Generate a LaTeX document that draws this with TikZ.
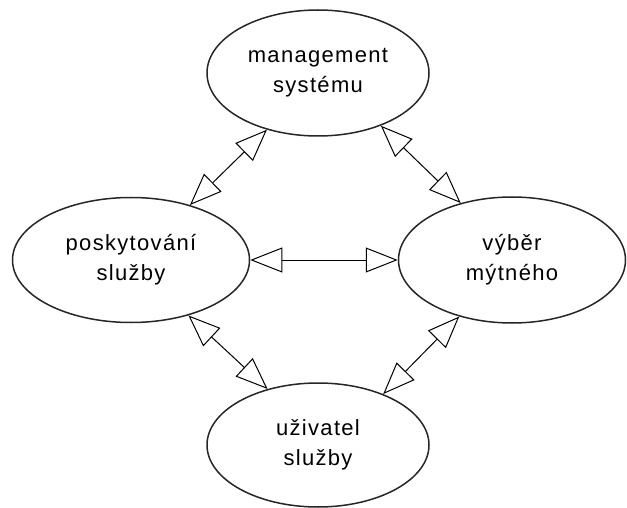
\documentclass[tikz,border=0pt]{standalone}
\usepackage{fontspec}
\setmainfont{Liberation Sans}[LetterSpace=6]
\usetikzlibrary{shapes.geometric,arrows.meta}
\tikzset{
  blob/.style={draw=black!85, line width=1.5pt, ellipse, inner sep=0pt, align=center,
    font=\fontsize{22}{30}\selectfont},
  link/.style={line width=1pt, {Triangle[open,length=32pt,width=25pt]}-{Triangle[open,length=32pt,width=25pt]}}
}
\begin{document}
\begin{tikzpicture}[x=1pt,y=-1pt]
\useasboundingbox (0,0) rectangle (627,508);
\node[blob, minimum width=222pt, minimum height=126pt] (t) at (318,73) {management\\systému};
\node[blob, minimum width=237pt, minimum height=125pt] (l) at (131,260) {poskytování\\služby};
\node[blob, minimum width=227pt, minimum height=126pt] (r) at (512,260) {výběr\\mýtného};
\node[blob, minimum width=222pt, minimum height=124pt] (b) at (318,445) {uživatel\\služby};
\draw[link] (t.228.8) -- (l.43.5);
\draw[link] (t.320.5) -- (r.132.9);
\draw[link] (l.east) -- (r.west);
\draw[link] (l.316.5) -- (b.132.2);
\draw[link] (r.227.1) -- (b.38.5);
\end{tikzpicture}
\end{document}
